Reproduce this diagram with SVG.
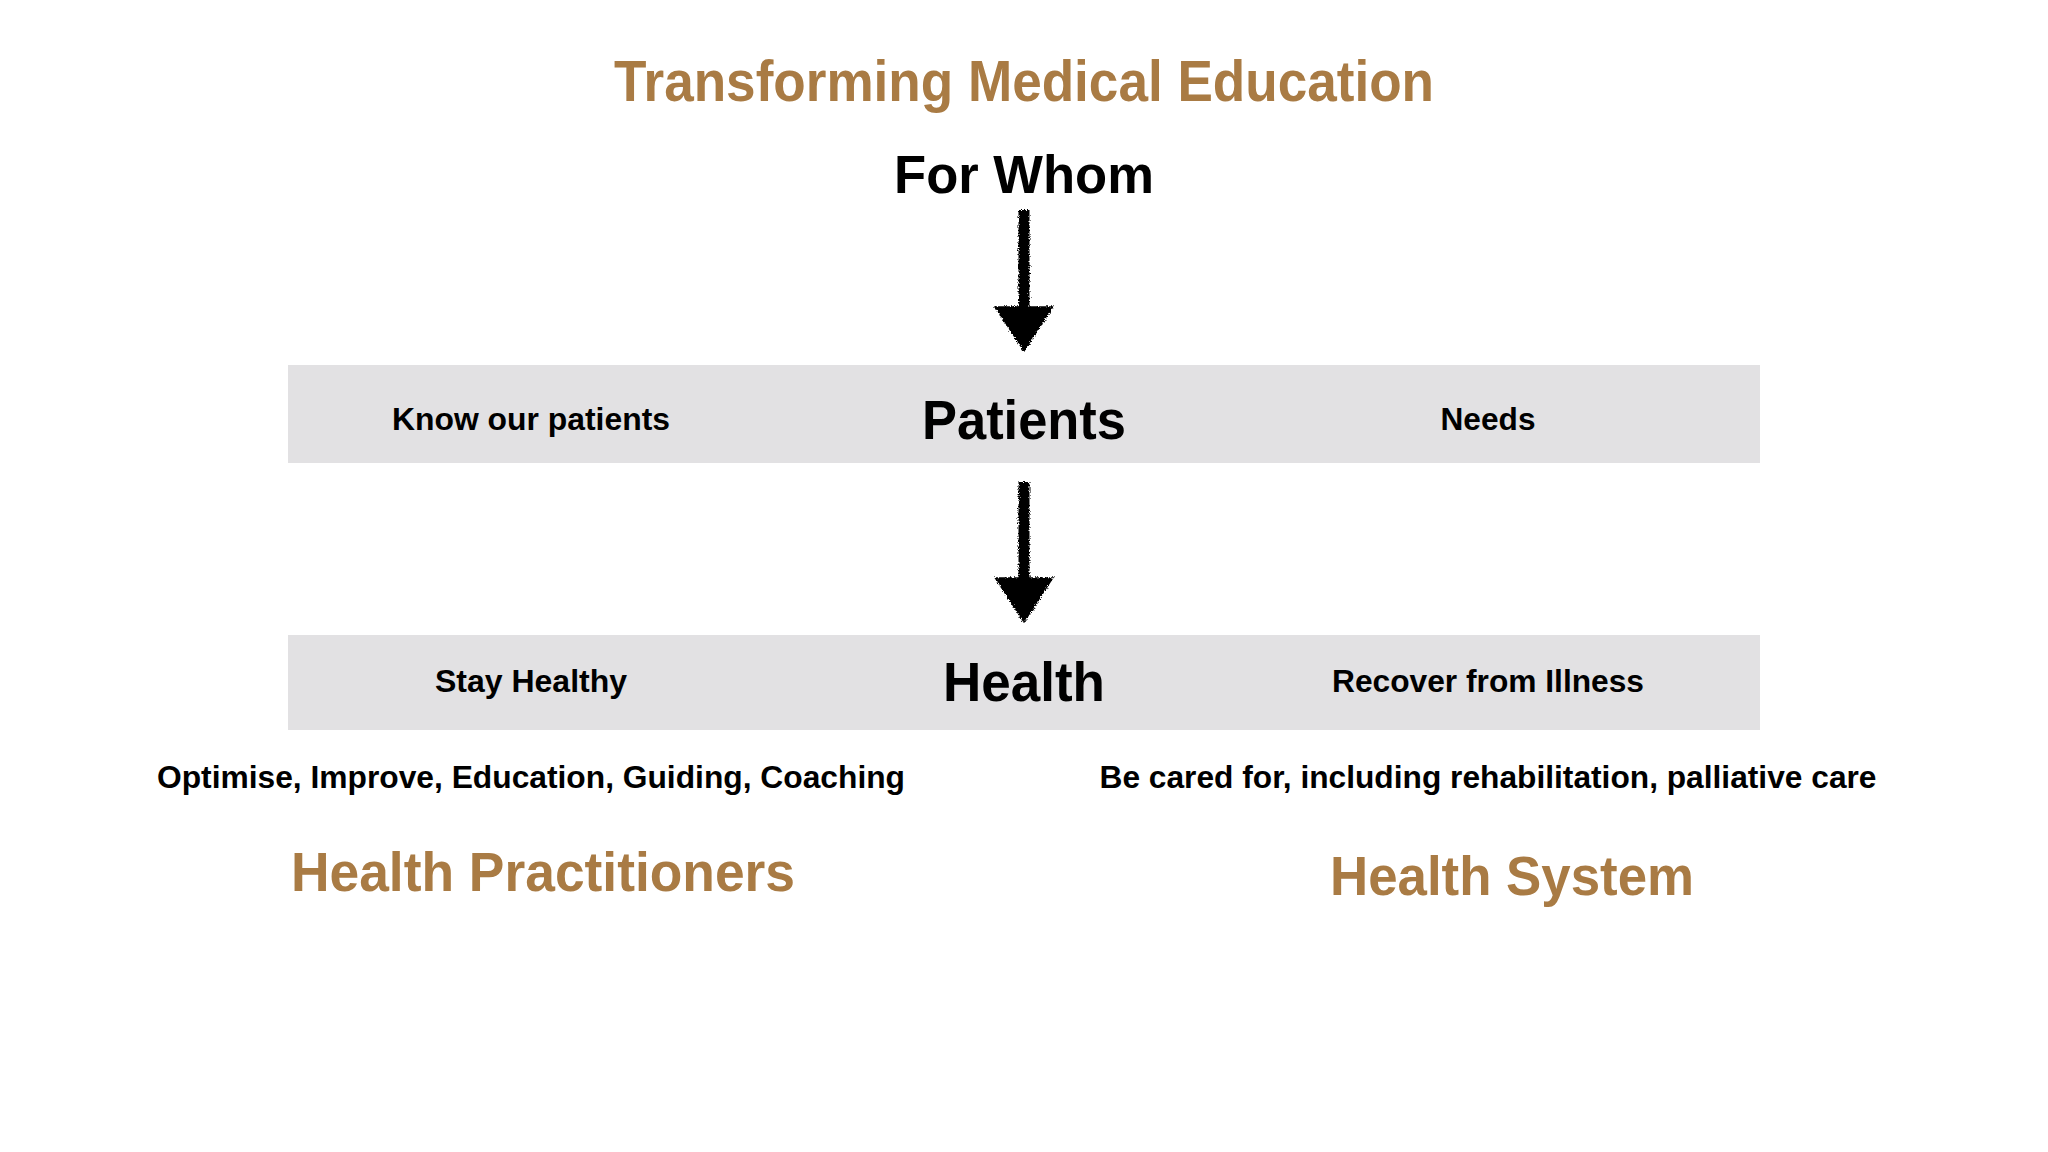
<svg xmlns="http://www.w3.org/2000/svg" width="2048" height="1152" viewBox="0 0 2048 1152">
  <defs>
    <style>
      text { font-family: "Liberation Sans", Arial, sans-serif; font-weight: bold; text-anchor: middle; }
      .gold { fill: #a97b44; }
      .black { fill: #000000; }
      .bar { fill: #e2e1e3; }
      .shaft { stroke: #000; stroke-width: 11; fill: none; stroke-linecap: butt; }
    </style>
    <filter id="rough" filterUnits="userSpaceOnUse" x="900" y="180" width="250" height="480">
      <feTurbulence type="fractalNoise" baseFrequency="0.7" numOctaves="2" seed="3" result="n"/>
      <feDisplacementMap in="SourceGraphic" in2="n" scale="5" xChannelSelector="R" yChannelSelector="G"/>
    </filter>
    <marker id="head" markerUnits="userSpaceOnUse" markerWidth="60" markerHeight="60" viewBox="0 0 44 56" refX="11" refY="28" orient="auto">
      <path d="M0,0 L43,28 L0,56 Z" fill="#000"/>
    </marker>
  </defs>
  <rect width="2048" height="1152" fill="#ffffff"/>

  <g id="title">
    <text class="gold" x="1024" y="101" font-size="57" textLength="820" lengthAdjust="spacingAndGlyphs">Transforming Medical Education</text>
  </g>
  <g id="for-whom">
    <text class="black" x="1024" y="193" font-size="54" textLength="260" lengthAdjust="spacingAndGlyphs">For Whom</text>
  </g>

  <g id="patients-bar">
    <rect class="bar" x="288" y="365" width="1472" height="98"/>
    <text class="black" x="531" y="430" font-size="31" textLength="278" lengthAdjust="spacingAndGlyphs">Know our patients</text>
    <text class="black" x="1024" y="439" font-size="56" textLength="204" lengthAdjust="spacingAndGlyphs">Patients</text>
    <text class="black" x="1488" y="430" font-size="31" textLength="95" lengthAdjust="spacingAndGlyphs">Needs</text>
  </g>

  <g id="health-bar">
    <rect class="bar" x="288" y="635" width="1472" height="95"/>
    <text class="black" x="531" y="692" font-size="31" textLength="192" lengthAdjust="spacingAndGlyphs">Stay Healthy</text>
    <text class="black" x="1024" y="701" font-size="56" textLength="162" lengthAdjust="spacingAndGlyphs">Health</text>
    <text class="black" x="1488" y="692" font-size="31" textLength="312" lengthAdjust="spacingAndGlyphs">Recover from Illness</text>
  </g>

  <g id="stay-healthy-detail">
    <text class="black" x="531" y="788" font-size="31" textLength="748" lengthAdjust="spacingAndGlyphs">Optimise, Improve, Education, Guiding, Coaching</text>
  </g>
  <g id="recover-detail">
    <text class="black" x="1488" y="788" font-size="31" textLength="777" lengthAdjust="spacingAndGlyphs">Be cared for, including rehabilitation, palliative care</text>
  </g>

  <g id="health-practitioners">
    <text class="gold" x="543" y="891" font-size="56" textLength="504" lengthAdjust="spacingAndGlyphs">Health Practitioners</text>
  </g>
  <g id="health-system">
    <text class="gold" x="1512" y="895" font-size="56" textLength="364" lengthAdjust="spacingAndGlyphs">Health System</text>
  </g>

  <g id="connectors" filter="url(#rough)">
    <path class="shaft" d="M1024,210 L1024,318" marker-end="url(#head)"/>
    <path class="shaft" d="M1024,482 L1024,589" marker-end="url(#head)"/>
  </g>
</svg>
